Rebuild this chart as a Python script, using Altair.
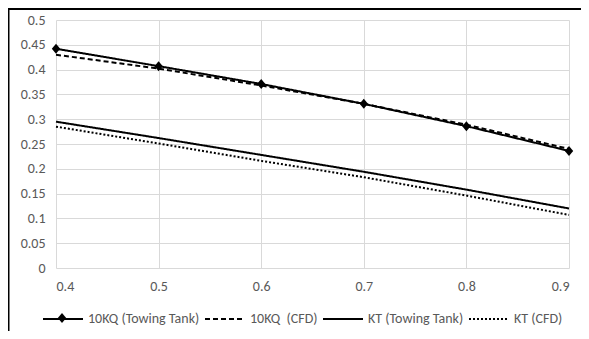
import altair as alt
import pandas as pd

J = [0.4, 0.5, 0.6, 0.7, 0.8, 0.9]
kq10_tank = [0.442, 0.407, 0.371, 0.331, 0.286, 0.236]
kq10_cfd = [0.430, 0.402, 0.368, 0.331, 0.289, 0.240]
kt_tank = [0.295, 0.262, 0.228, 0.194, 0.158, 0.120]
kt_cfd = [0.285, 0.251, 0.216, 0.183, 0.146, 0.107]
y_ticks = [0, 0.05, 0.1, 0.15, 0.2, 0.25, 0.3, 0.35, 0.4, 0.45, 0.5]

names = ["10KQ (Towing Tank)", "10KQ\u00a0 (CFD)", "KT (Towing Tank)", "KT (CFD)"]
series = [kq10_tank, kq10_cfd, kt_tank, kt_cfd]
dashes = [[1, 0], [5, 3], [1, 0], [2, 2]]

rows = []
for n, vals in zip(names, series):
    for j, v in zip(J, vals):
        rows.append({"J": j, "value": v, "series": n})
df = pd.DataFrame(rows)

FONT = "Carlito, Lato, sans-serif"
GRID = "#d9d9d9"
TXT = "#595959"
FS = 14

x = alt.X("J:Q", scale=alt.Scale(domain=[0.4, 0.9], nice=False),
          axis=alt.Axis(values=J, format=".1f", title=None))
y = alt.Y("value:Q", scale=alt.Scale(domain=[0, 0.5], nice=False),
          axis=alt.Axis(values=y_ticks, format=".2~f", title=None))

LX, LY = -14, 278

lines = alt.Chart(df).mark_line(color="black", strokeWidth=2).encode(
    x=x, y=y,
    strokeDash=alt.StrokeDash(
        "series:N", scale=alt.Scale(domain=names, range=dashes), sort=names,
        legend=alt.Legend(orient="none", legendX=LX, legendY=LY, direction="horizontal",
                          columns=4, title=None, symbolType="stroke",
                          symbolStrokeColor="black")),
)

diamond = "M0,-0.25L0.21,0L0,0.25L-0.21,0Z"
points = alt.Chart(df[df["series"] == names[0]]).mark_point(
    filled=True, color="black", size=1600, opacity=1
).encode(
    x=x, y=y,
    shape=alt.Shape(
        "series:N", scale=alt.Scale(domain=[names[0]], range=[diamond]),
        legend=alt.Legend(orient="none", legendX=LX, legendY=LY, direction="horizontal",
                          columns=4, title=None, labelExpr="''",
                          symbolFillColor="black", symbolStrokeWidth=0)),
)

frame_df = pd.DataFrame({"k": [0]})
left_border = alt.Chart(frame_df).mark_rule(color="black", strokeWidth=2).encode(
    x=alt.value(-47.5), y=alt.value(-20), y2=alt.value(340))
top_border = alt.Chart(frame_df).mark_rule(color="black", strokeWidth=2).encode(
    x=alt.value(-48), x2=alt.value(560), y=alt.value(-11))

chart = alt.layer(lines, points, left_border, top_border).properties(
    width=513, height=248,
    padding={"left": 48, "top": 12, "right": 12, "bottom": 63},
    autosize=alt.AutoSizeParams(type="none"),
).configure_view(strokeWidth=0).configure_axis(
    grid=True, gridColor=GRID, gridWidth=1, domain=False, ticks=False,
    labelPadding=11, labelFont=FONT, labelFontSize=FS, labelColor=TXT,
    labelOverlap=False,
).configure_legend(
    symbolSize=1600, symbolStrokeWidth=2, labelOffset=4, columnPadding=1,
    labelFont=FONT, labelFontSize=FS, labelColor=TXT,
)

chart.save("out.html", embed_options={"renderer": "svg", "actions": False})
